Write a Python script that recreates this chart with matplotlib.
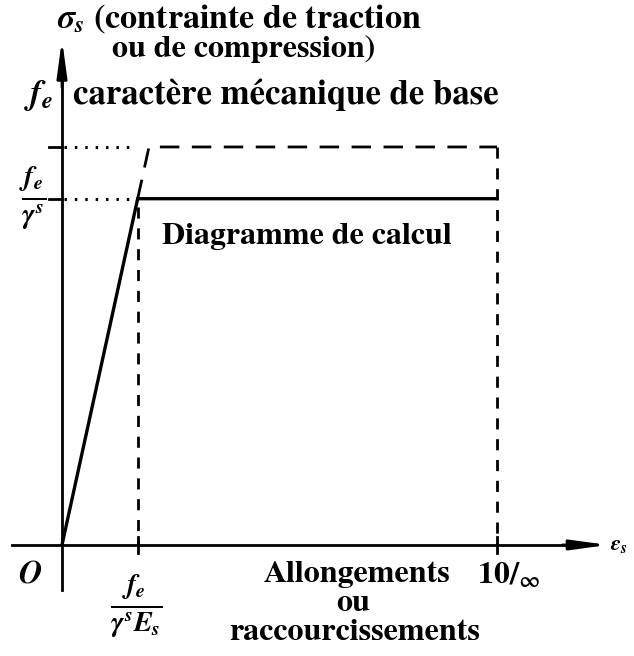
import matplotlib.pyplot as plt

plt.rcParams['font.family'] = ['STIXGeneral', 'DejaVu Serif']
plt.rcParams['font.weight'] = 'bold'
plt.rcParams['mathtext.fontset'] = 'stix'

# deformations en pour mille, contraintes en MPa
eps_yd = 1.74      # fe / (gamma_s * Es)
eps_yk = 2.0       # fe / Es
eps_max = 10.0
fe = 400.0
fyd = 348.0        # fe / gamma_s

calc_eps = [0, eps_yd, eps_max]
calc_sig = [0, fyd, fyd]
base_eps = [eps_yd, eps_yk, eps_max, eps_max]
base_sig = [fyd, fe, fe, 0]

fig = plt.figure(figsize=(6.34, 6.56), dpi=100)
ax = fig.add_axes([0, 0, 1, 1])
ax.set_xlim(-1.425, 13.15)
ax.set_ylim(-111.6, 547.7)
ax.axis('off')

k = 'black'
fs = 23

# axes avec fleches
ax.plot([-1.15, 11.8], [0, 0], color=k, lw=2.0)
ax.annotate('', xy=(12.55, 0), xytext=(11.5, 0),
            arrowprops=dict(arrowstyle='-|>,head_length=2.2,head_width=0.3',
                            color=k, lw=2.0, shrinkA=0, shrinkB=0))
ax.plot([0, 0], [-45, 470], color=k, lw=2.0)
ax.annotate('', xy=(0, 508), xytext=(0, 460),
            arrowprops=dict(arrowstyle='-|>,head_length=2.2,head_width=0.3',
                            color=k, lw=2.0, shrinkA=0, shrinkB=0))

# graduations
for s in [fe, fyd]:
    ax.plot([-0.3, 0], [s, s], color=k, lw=2.0)
for e in [eps_yd, eps_max]:
    ax.plot([e, e], [-8, 8], color=k, lw=2.0)

# pointilles de rappel
ax.plot([0.05, 1.65], [fe, fe], color=k, lw=2.2, linestyle=(0, (0.8, 2.6)))
ax.plot([0.05, 1.55], [fyd, fyd], color=k, lw=2.2, linestyle=(0, (0.8, 2.6)))

# diagramme caracteristique (tirets)
ax.plot(base_eps[:3], base_sig[:3], color=k, lw=2.0, linestyle=(0, (7, 4.5)))
ax.plot(base_eps[2:], base_sig[2:], color=k, lw=2.0, linestyle=(0, (4, 3.5)))
ax.plot([eps_yd, eps_yd], [fyd - 8, 0], color=k, lw=2.0, linestyle=(0, (4, 3.5)))

# diagramme de calcul
ax.plot(calc_eps, calc_sig, color=k, lw=2.4, solid_joinstyle='miter')

# textes
ax.text(-0.12, 528, r'$\sigma_s$ (contrainte de traction', fontsize=24.5, ha='left', va='center')
ax.text(4.18, 498, 'ou de compression)', fontsize=fs, ha='center', va='center')
ax.text(-0.55, 452, r'$f_e$', fontsize=fs + 2, ha='center', va='center')
ax.text(0.25, 452, 'caractère mécanique de base', fontsize=25, ha='left', va='center')
ax.text(-0.67, fyd, r'$\frac{f_e}{\gamma^s}$', fontsize=fs + 6, ha='center', va='center')
ax.text(2.3, 310, 'Diagramme de calcul', fontsize=fs, ha='left', va='center')
ax.text(-0.74, -30, r'$O$', fontsize=fs, ha='center', va='center')
ax.text(1.72, -62, r'$\frac{f_e}{\gamma^s E_s}$', fontsize=fs + 6, ha='center', va='center')
ax.text(6.78, -30, 'Allongements', fontsize=fs, ha='center', va='center')
ax.text(6.7, -59, 'ou', fontsize=fs, ha='center', va='center')
ax.text(6.72, -88, 'raccourcissements', fontsize=fs, ha='center', va='center')
ax.text(9.55, -30, r'10/$_{\infty}$', fontsize=fs, ha='left', va='center')
ax.text(12.6, 0, r'$\varepsilon_s$', fontsize=fs - 7, ha='left', va='center')

fig.savefig('out.png', dpi=100)
